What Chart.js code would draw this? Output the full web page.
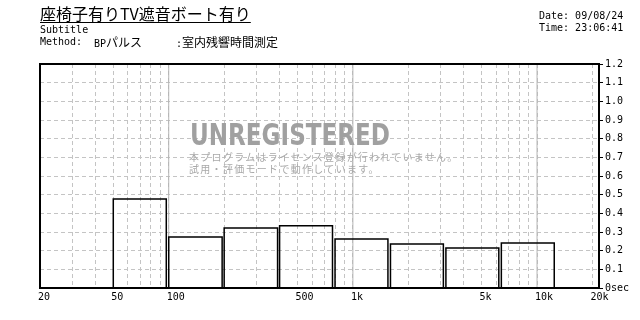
<!DOCTYPE html>
<html>
<head>
<meta charset="utf-8">
<script src="https://cdn.jsdelivr.net/npm/chart.js@4.4.0/dist/chart.umd.min.js"></script>
<style>
  html, body { margin: 0; padding: 0; background: #fff; }
  #wrap { position: relative; width: 640px; height: 320px; overflow: hidden; color: #000; }
  #wrap canvas { position: absolute; left: 0; top: 0; }
  .t { position: absolute; white-space: nowrap; }
  .mono { font: 10px/12px 'DejaVu Sans Mono', monospace; }
  .jp { font: 12px/12px 'Noto Sans CJK JP', sans-serif; }
  #title { left: 40px; top: 5px; font: 16px/16px 'Noto Sans CJK JP', sans-serif; text-decoration: underline; text-underline-offset: 2px; }
  #wm { left: 190px; top: 120px; font: bold 30px/30px 'DejaVu Sans', sans-serif; color: #a0a0a0; transform-origin: 0 0; }
  .wmjp { font: 10px/12px 'Noto Sans CJK JP', sans-serif; color: #a8a8a8; letter-spacing: 1.3px; }
</style>
</head>
<body>
<div id="wrap">
  <canvas id="chart" width="640" height="320"></canvas>
  <div class="t" id="title">座椅子有りTV遮音ボート有り</div>
  <div class="t mono" style="left:40px; top:24px;">Subtitle</div>
  <div class="t mono" style="left:40px; top:36px;">Method:</div>
  <div class="t mono" style="left:94px; top:36px;">BP<span class="jp">パルス</span></div>
  <div class="t mono" style="left:176px; top:36px;">:<span class="jp">室内残響時間測定</span></div>
  <div class="t mono" style="left:539px; top:10px;">Date: 09/08/24</div>
  <div class="t mono" style="left:539px; top:22px;">Time: 23:06:41</div>
  <div class="t" id="wm">UNREGISTERED</div>
  <div class="t wmjp" style="left:189px; top:151px;">本プログラムはライセンス登録が行われていません。</div>
  <div class="t wmjp" style="left:189px; top:163px;">試用・評価モードで動作しています。</div>
</div>
<script>
// octave bands: lower / upper edge of each drawn bar (Hz) and reverberation time (sec)
const bandLow = [50, 100, 200, 400, 800, 1600, 3200, 6400];
const bandHigh = [97, 195, 390, 775, 1550, 3100, 6200, 12400];
const rt60 = [0.477, 0.273, 0.321, 0.334, 0.262, 0.236, 0.214, 0.241];

const gridFreqs = [20, 30, 40, 50, 60, 70, 80, 90,
    100, 200, 300, 400, 500, 600, 700, 800, 900,
    1000, 2000, 3000, 4000, 5000, 6000, 7000, 8000, 9000,
    10000, 20000];
const labelFreqs = [20, 50, 100, 500, 1000, 5000, 10000, 20000];
const labelTexts = ['20', '50', '100', '500', '1k', '5k', '10k', '20k'];
const decadeFreqs = [100, 1000, 10000];

const tickFont = { family: "'DejaVu Sans Mono', monospace", size: 10 };

// squeeze the watermark to its width in the reference
const wm = document.getElementById('wm');
wm.style.transform = 'scaleX(' + (200 / wm.getBoundingClientRect().width) + ')';

const barPoints = [];
bandLow.forEach((lo, i) => {
    const hi = bandHigh[i];
    barPoints.push({ x: lo, y: 0 }, { x: lo, y: rt60[i] }, { x: hi, y: rt60[i] }, { x: hi, y: 0 }, { x: hi, y: null });
});

const datasets = [{
    data: barPoints,
    borderColor: '#000',
    borderWidth: 1.5,
    pointRadius: 0,
    tension: 0,
    fill: false,
    spanGaps: false,
}];
decadeFreqs.forEach((f) => {
    datasets.push({
        data: [{ x: f, y: 0 }, { x: f, y: 1.2 }],
        borderColor: '#b4b4b4',
        borderWidth: 1,
        pointRadius: 0,
    });
});

const framePlugin = {
    id: 'frame',
    afterDatasetsDraw(chart) {
        const { ctx, chartArea: a } = chart;
        ctx.save();
        ctx.strokeStyle = '#000';
        ctx.lineWidth = 2;
        ctx.strokeRect(a.left, a.top, a.right - a.left, a.bottom - a.top);
        ctx.restore();
    }
};

new Chart(document.getElementById('chart'), {
    type: 'line',
    data: { datasets: datasets },
    options: {
        responsive: false,
        animation: false,
        parsing: true,
        layout: { padding: { left: 40, top: 64, right: 0, bottom: 0 } },
        plugins: { legend: { display: false }, tooltip: { enabled: false } },
        scales: {
            x: {
                type: 'logarithmic',
                min: 20,
                max: 21700,
                afterBuildTicks: (s) => { s.ticks = gridFreqs.map((v) => ({ value: v })); },
                afterFit: (s) => { s.height = 32; },
                ticks: {
                    autoSkip: false,
                    maxRotation: 0,
                    align: 'start',
                    labelOffset: -2,
                    padding: 3,
                    color: '#000',
                    font: tickFont,
                    callback: (v) => {
                        const i = labelFreqs.indexOf(v);
                        return i >= 0 ? labelTexts[i] : '';
                    }
                },
                grid: { color: '#c4c4c4', lineWidth: 1, drawTicks: false },
                border: { display: false, dash: [4, 3] },
            },
            y: {
                type: 'linear',
                position: 'right',
                min: 0,
                max: 1.2,
                afterFit: (s) => { s.width = 41; },
                ticks: {
                    stepSize: 0.1,
                    padding: 2,
                    color: '#000',
                    font: tickFont,
                    callback: (v) => (v === 0 ? '0sec' : v.toFixed(1))
                },
                grid: { color: '#c4c4c4', lineWidth: 1, tickColor: '#000', tickLength: 4, tickWidth: 1 },
                border: { display: false, dash: [4, 3] },
            }
        }
    },
    plugins: [framePlugin]
});
</script>
</body>
</html>
